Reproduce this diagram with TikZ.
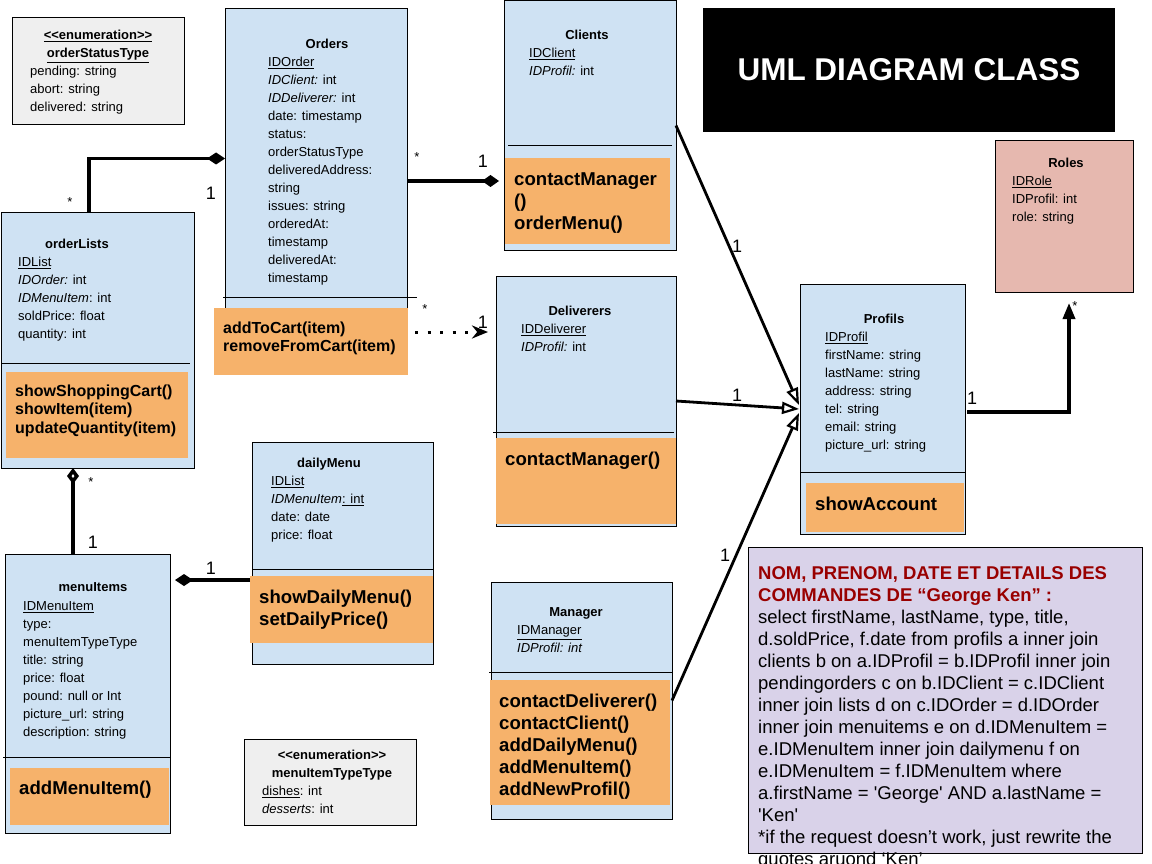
\documentclass[tikz,border=0pt]{standalone}
\usepackage{fontspec}
\usepackage{xcolor}
\usetikzlibrary{arrows.meta,calc}
\newfontfamily\umlfont{Liberation Sans}
\definecolor{classblue}{HTML}{CFE2F3}
\definecolor{opsorange}{HTML}{F6B26B}
\definecolor{rolepink}{HTML}{E6B8AF}
\definecolor{enumgray}{HTML}{EFEFEF}
\definecolor{notelilac}{HTML}{D9D2E9}
\definecolor{notered}{HTML}{990000}
\tikzset{
  classbox/.style={
    draw,
    line width=1pt,
    fill=classblue,
    anchor=north west,
    inner sep=0,
    outer sep=0
  },
  enumbox/.style={
    classbox,
    fill=enumgray
  },
  rolebox/.style={
    classbox,
    fill=rolepink
  },
  notebox/.style={
    classbox,
    fill=notelilac
  },
  opsbox/.style={
    fill=opsorange,
    anchor=north west,
    inner sep=0,
    outer sep=0
  },
  titlebox/.style={
    fill=black,
    anchor=north west,
    inner sep=0,
    outer sep=0
  },
  divider/.style={
    line width=1pt
  },
  cname/.style={
    font=\umlfont\fontsize{13}{16}\selectfont\bfseries,
    anchor=base,
    inner sep=0
  },
  enumhead/.style={
    font=\umlfont\fontsize{13}{18}\selectfont\bfseries,
    align=center,
    anchor=north,
    inner sep=0
  },
  attrs/.style={
    font=\umlfont\fontsize{13}{18}\selectfont,
    align=left,
    anchor=north west,
    inner sep=0
  },
  ops/.style={
    font=\umlfont\fontsize{18.6}{22}\selectfont\bfseries,
    align=left,
    anchor=north west,
    inner sep=0
  },
  opssmall/.style={
    ops,
    font=\umlfont\fontsize{16}{18.3}\selectfont\bfseries
  },
  notetext/.style={
    font=\umlfont\fontsize{18.5}{22}\selectfont,
    align=left,
    anchor=north west,
    inner sep=0
  },
  titletext/.style={
    font=\umlfont\fontsize{31.5}{36}\selectfont\bfseries,
    text=white,
    inner sep=0
  },
  mult/.style={
    font=\umlfont\fontsize{18}{20}\selectfont,
    inner sep=0
  },
  star/.style={
    font=\umlfont\fontsize{13}{15}\selectfont,
    inner sep=0
  },
  assoc/.style={
    line width=3.5pt
  },
  gener/.style={
    line width=2.8pt,
    -{Triangle[open,length=17pt,width=12pt,line width=2.2pt]}
  },
  dotline/.style={
    line width=3pt,
    dash pattern=on 3pt off 9.5pt
  }
}

\begin{document}
\begin{tikzpicture}[x=1pt, y=-1pt]
  \useasboundingbox (0,0) rectangle (1152,864);

  % enumeration orderStatusType
  \node[enumbox, minimum width=172, minimum height=107] (statusenum) at (12,18) {};
  \node[enumhead] (statushead) at (98,27) {\strut\underline{<<enumeration>>}\\\underline{orderStatusType}};
  \node[attrs] (statusvals) at (30,63) {\strut pending: string\\abort: string\\delivered: string};

  % Orders
  \node[classbox, minimum width=182, minimum height=299] (orders) at (225,9) {};
  \draw[divider] (223,297) -- (417,297);
  \node[opsbox, minimum width=194, minimum height=67] (ordersops) at (214,308) {};
  \node[cname] (ordersname) at (327,48.7) {Orders};
  \node[attrs] (ordersattr) at (268,54) {\strut\underline{IDOrder}\\\textit{IDClient:} int\\\textit{IDDeliverer:} int\\date: timestamp\\status:\\orderStatusType\\deliveredAddress:\\string\\issues: string\\orderedAt:\\timestamp\\deliveredAt:\\timestamp};
  \node[opssmall] (ordersmeth) at (223,320.1) {\strut addToCart(item)\\removeFromCart(item)};

  % Clients
  \node[classbox, minimum width=172, minimum height=249] (clients) at (504,1) {};
  \draw[divider] (508,146) -- (672,146);
  \node[opsbox, minimum width=165, minimum height=86] (clientsops) at (505,158) {};
  \node[cname] (clientsname) at (587,39.7) {Clients};
  \node[attrs] (clientsattr) at (529,45) {\strut\underline{IDClient}\\\textit{IDProfil:} int};
  \node[ops] (clientsmeth) at (514,170.3) {\strut contactManager\\()\\orderMenu()};

  % title
  \node[titlebox, minimum width=412, minimum height=124] (titlebg) at (703,8) {};
  \node[titletext] (umltitle) at (909,70) {UML DIAGRAM CLASS};

  % Roles
  \node[rolebox, minimum width=138, minimum height=151] (roles) at (995,141) {};
  \node[cname] (rolesname) at (1066,167.7) {Roles};
  \node[attrs] (rolesattr) at (1012,173) {\strut\underline{IDRole}\\IDProfil: int\\role: string};

  % Profils
  \node[classbox, minimum width=165, minimum height=250] (profils) at (800,284) {};
  \draw[divider] (800,472) -- (965,472);
  \node[opsbox, minimum width=158, minimum height=49] (profilsops) at (806,483) {};
  \node[cname] (profilsname) at (884,323.7) {Profils};
  \node[attrs] (profilsattr) at (825,329) {\strut\underline{IDProfil}\\firstName: string\\lastName: string\\address: string\\tel: string\\email: string\\picture\_url: string};
  \node[ops] (profilsmeth) at (815,495.3) {\strut showAccount};

  % Deliverers
  \node[classbox, minimum width=180, minimum height=250] (delivs) at (496,276) {};
  \draw[divider] (493,432) -- (674,432);
  \node[opsbox, minimum width=180, minimum height=86] (delivsops) at (496,438) {};
  \node[cname] (delivsname) at (580,315.7) {Deliverers};
  \node[attrs] (delivsattr) at (521,321) {\strut\underline{IDDeliverer}\\\textit{IDProfil:} int};
  \node[ops] (delivsmeth) at (505,450.3) {\strut contactManager()};

  % orderLists
  \node[classbox, minimum width=193, minimum height=256] (orderlists) at (1,212) {};
  \draw[divider] (1,363) -- (190,363);
  \node[opsbox, minimum width=182, minimum height=86] (orderlistsops) at (6,372) {};
  \node[cname] (orderlistsname) at (77,248.7) {orderLists};
  \node[attrs] (orderlistsattr) at (18,254) {\strut\underline{IDList}\\\textit{IDOrder:} int\\\textit{IDMenuItem}: int\\soldPrice: float\\quantity: int};
  \node[opssmall] (orderlistsmeth) at (15,383.6) {\strut showShoppingCart()\\showItem(item)\\updateQuantity(item)};

  % dailyMenu
  \node[classbox, minimum width=181, minimum height=222] (dailymenu) at (252,442) {};
  \draw[divider] (252,569) -- (434,569);
  \node[opsbox, minimum width=183, minimum height=67] (dmops) at (250,576) {};
  \node[cname] (dailymenuname) at (329,467.7) {dailyMenu};
  \node[attrs] (dailymenuattr) at (271,473) {\strut\underline{IDList}\\\textit{IDMenuItem}\underline{: int}\\date: date\\price: float};
  \node[ops] (dailymenumeth) at (259,588.3) {\strut showDailyMenu()\\setDailyPrice()};

  % menuItems
  \node[classbox, minimum width=165, minimum height=279] (menuitems) at (5,554) {};
  \draw[divider] (3,757) -- (170,757);
  \node[opsbox, minimum width=159, minimum height=57] (menuitemsops) at (10,768) {};
  \node[cname] (menuitemsname) at (93,591.7) {menuItems};
  \node[attrs] (menuitemsattr) at (23,598) {\strut\underline{IDMenuItem}\\type:\\menuItemTypeType\\title: string\\price: float\\pound: null or Int\\picture\_url: string\\description: string};
  \node[ops] (menuitemsmeth) at (19,779.3) {\strut addMenuItem()};

  % enumeration menuItemTypeType
  \node[enumbox, minimum width=172, minimum height=86] (typeenum) at (244,739) {};
  \node[enumhead] (typehead) at (332,747) {\strut <<enumeration>>\\menuItemTypeType};
  \node[attrs] (typevals) at (262,783) {\strut\underline{dishes}: int\\\textit{desserts}: int};

  % Manager
  \node[classbox, minimum width=181, minimum height=237] (manager) at (491,582) {};
  \draw[divider] (489,672) -- (672,672);
  \node[opsbox, minimum width=180, minimum height=125] (managerops) at (490,680) {};
  \node[cname] (managername) at (576,616.7) {Manager};
  \node[attrs] (managerattr) at (517,622) {\strut\underline{IDManager}\\\textit{IDProfil: int}};
  \node[ops] (managermeth) at (499,692.3) {\strut contactDeliverer()\\contactClient()\\addDailyMenu()\\addMenuItem()\\addNewProfil()};

  % request note
  \node[notebox, minimum width=394, minimum height=306] (note) at (748,547) {};
  \node[notetext] (notebody) at (758,564.2) {\strut\textcolor{notered}{\textbf{NOM, PRENOM, DATE ET DETAILS DES}}\\\textcolor{notered}{\textbf{COMMANDES DE “George Ken” :}}\\select firstName, lastName, type, title,\\d.soldPrice, f.date from profils a inner join\\clients b on a.IDProfil = b.IDProfil inner join\\pendingorders c on b.IDClient = c.IDClient\\inner join lists d on c.IDOrder = d.IDOrder\\inner join menuitems e on d.IDMenuItem =\\e.IDMenuItem inner join dailymenu f on\\e.IDMenuItem = f.IDMenuItem where\\a.firstName = 'George' AND a.lastName =\\'Ken'\\{*}if the request doesn’t work, just rewrite the\\quotes aruond ‘Ken’};

  % connectors
  \draw[assoc, -{Diamond[length=18pt,width=12pt]}] ([xshift=-8.5pt]orderlists.north) |- (orders.west);
  \coordinate (ordcli) at ([yshift=-22.5pt]orders.east);
  \draw[assoc, -{Diamond[length=17pt,width=12pt]}, shorten >=5pt] (ordcli) -- (ordcli -| clients.west);
  \coordinate (orddel) at ([shift={(7pt,9.5pt)}]ordersops.east);
  \draw[dotline, -{Stealth[length=16pt,width=13pt]}, shorten >=8pt] (orddel) -- (orddel -| delivs.west);
  \draw[gener] (clients.east) -- ([shift={(-1pt,4pt)}]profils.west);
  \draw[gener] (delivs.east) -- ([xshift=-1pt]profils.west);
  \draw[gener] (manager.east) -- ([shift={(-1pt,-4pt)}]profils.west);
  \coordinate (roletip) at ([shift={(5pt,-11pt)}]roles.south);
  \draw[assoc, -{Triangle[length=16pt,width=12pt]}] ([shift={(2pt,-3pt)}]profils.east) -| (roletip);
  \coordinate (mitop) at ([xshift=-14.5pt]menuitems.north);
  \draw[assoc, -{Diamond[open,length=16pt,width=12pt]}] (mitop) -- (mitop |- orderlists.south);
  \coordinate (dmmi) at ([yshift=29.5pt]dmops.west);
  \draw[assoc, -{Diamond[length=18pt,width=12pt]}, shorten >=5pt] (dmmi) -- (dmmi -| menuitems.east);

  % multiplicities
  \node[star] (olstar) at (70,202) {*};
  \node[mult] (olone) at (211,193) {1};
  \node[star] (clstar) at (417,157) {*};
  \node[mult] (clone) at (483,161) {1};
  \node[star] (dlstar) at (425,309) {*};
  \node[mult] (dlone) at (483,322) {1};
  \node[mult] (prone1) at (737,246) {1};
  \node[mult] (prone2) at (737,395) {1};
  \node[mult] (prone3) at (725,555) {1};
  \node[mult] (roone) at (972,398) {1};
  \node[star] (rostar) at (1075,306) {*};
  \node[star] (mistar) at (91,482) {*};
  \node[mult] (mione) at (93,542) {1};
  \node[mult] (dmone) at (211,568) {1};
\end{tikzpicture}
\end{document}
